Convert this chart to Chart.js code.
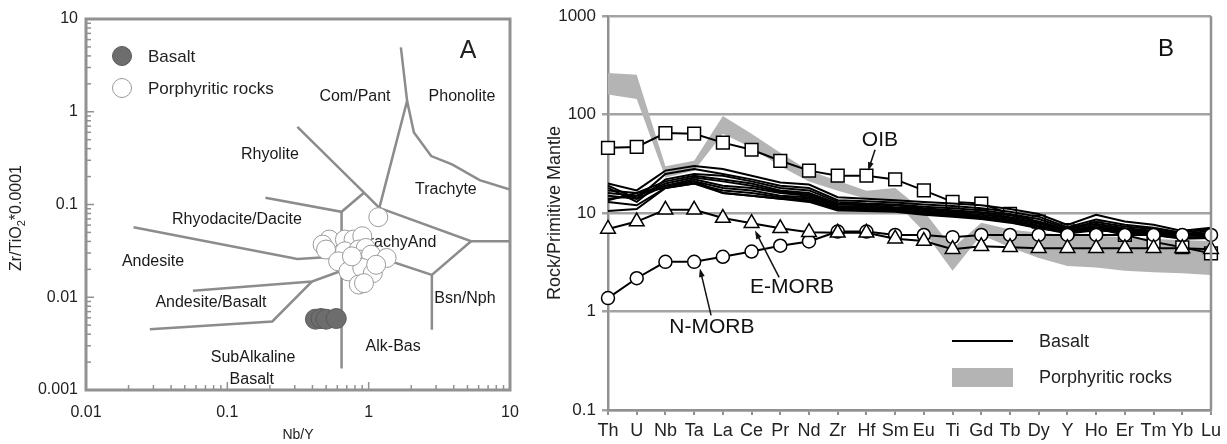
<!DOCTYPE html>
<html lang="en">
<head>
<meta charset="UTF-8">
<title>Nb/Y - Zr/TiO2 and primitive mantle normalized patterns</title>
<script src="https://cdn.jsdelivr.net/npm/chart.js@4"></script>
<style>
  body { margin: 0; background: #fff; }
  #wrap { position: relative; width: 1227px; height: 444px; }
  canvas { position: absolute; top: 0; }
</style>
</head>
<body>
<div id="wrap">
  <canvas id="chartA" width="540" height="444" style="left:0"></canvas>
  <canvas id="chartB" width="687" height="444" style="left:540px"></canvas>
</div>
<script>
// ---------- Panel A data (Nb/Y, Zr/TiO2*0.0001) ----------
const basaltA = [[0.42, 0.0058], [0.46, 0.0059], [0.50, 0.0058], [0.59, 0.0059]];
const porphyryA = [
  [1.17, 0.073], [0.527, 0.0419], [0.679, 0.0419], [0.782, 0.0419], [0.901, 0.0455],
  [0.472, 0.037], [0.499, 0.0327], [0.679, 0.0313], [0.851, 0.0327], [0.953, 0.034],
  [0.608, 0.0244], [0.782, 0.0234], [0.875, 0.0254], [1.04, 0.0288], [1.34, 0.0265],
  [0.719, 0.019], [0.901, 0.0207], [1.07, 0.0182], [0.851, 0.0137], [0.927, 0.0142],
  [0.761, 0.0276], [1.13, 0.0224]
];

// field boundaries
const bndRhyolite = [[0.313, 0.686], [0.927, 0.134], [1.19, 0.092]];
const bndComPant = [[1.69, 4.94], [1.87, 1.31], [1.19, 0.092]];
const bndPhonolite = [[1.87, 1.31], [2.09, 0.596], [2.77, 0.333], [3.89, 0.271], [6.1, 0.183], [10, 0.145]];
const bndTrachyte = [[1.19, 0.092], [5.3, 0.0402], [10, 0.0402]];
const bndTrachyAnd = [[0.643, 0.0366], [2.8, 0.0174], [5.3, 0.0402]];
const bndBsnNph = [[2.8, 0.0174], [2.8, 0.00446]];
const bndRhyodacite = [[0.186, 0.118], [0.643, 0.0834], [0.927, 0.134]];
const bndAlkaline = [[0.643, 0.0834], [0.643, 0.00171]];
const bndAndesite = [[0.0217, 0.0569], [0.313, 0.0259], [0.643, 0.0276]];
const bndAndBasalt = [[0.0571, 0.01175], [0.398, 0.0148], [0.643, 0.0193]];
const bndSubAlkaline = [[0.0283, 0.00453], [0.208, 0.00548], [0.398, 0.0148]];

const fieldNames = ['Com/Pant', 'Phonolite', 'Rhyolite', 'Trachyte', 'Rhyodacite/Dacite', 'TrachyAnd',
  'Andesite', 'Andesite/Basalt', 'Bsn/Nph', 'Alk-Bas', 'SubAlkaline', 'Basalt'];
const fieldAt = [[0.80, 1.44], [4.57, 1.44], [0.20, 0.342], [3.52, 0.143], [0.117, 0.068], [1.61, 0.0385],
  [0.0298, 0.024], [0.0766, 0.00867], [4.8, 0.00957], [1.49, 0.00291], [0.152, 0.00221], [0.149, 0.00131]];

// ---------- Panel B data (rock / primitive mantle) ----------
const elements = ['Th', 'U', 'Nb', 'Ta', 'La', 'Ce', 'Pr', 'Nd', 'Zr', 'Hf', 'Sm', 'Eu', 'Ti', 'Gd', 'Tb', 'Dy', 'Y', 'Ho', 'Er', 'Tm', 'Yb', 'Lu'];
const oib = [46, 47, 65, 64, 52, 44, 34, 27, 24, 24, 22, 17, 13, 12.5, 9.8, 8.2, 6.7, 7, 6, 5.1, 4.5, 3.9];
const emorb = [6.9, 8.2, 10.8, 10.8, 8.9, 7.9, 7.0, 6.4, 6.3, 6.3, 5.5, 5.2, 4.3, 4.6, 4.5, 4.4, 4.4, 4.4, 4.4, 4.4, 4.4, 4.3];
const nmorb = [1.37, 2.18, 3.2, 3.2, 3.6, 4.07, 4.66, 5.15, 6.5, 6.5, 6.0, 6.0, 5.7, 6.0, 6.0, 6.0, 6.0, 6.0, 6.0, 6.0, 6.0, 6.0];
const basaltB = [
  [20, 17, 27, 30, 28, 24, 20.5, 19.5, 14.5, 14, 13.5, 13, 12.5, 12, 11, 9.8, 7.6, 9.6, 8.2, 7.6, 6.6, 7.1],
  [19, 14, 25, 28, 25, 22, 19, 18, 13.5, 13.2, 12.8, 12.2, 11.8, 11.2, 10.3, 9.2, 7.2, 8.6, 7.6, 7.1, 6.3, 6.9],
  [18, 13, 22, 25, 24, 21, 18, 17, 13, 12.5, 12.2, 11.6, 11.2, 10.7, 9.8, 8.7, 7, 8.1, 7.3, 6.9, 6.1, 6.6],
  [17, 16, 21, 24, 22, 20, 17, 16, 12.5, 12.2, 12, 11.2, 10.7, 10.2, 9.5, 8.2, 6.8, 7.8, 7, 6.6, 6, 6.3],
  [16, 15, 20, 23, 21, 19, 16.5, 15.5, 12.2, 12, 11.5, 11, 10.4, 10, 9.1, 8, 6.6, 7.5, 6.8, 6.4, 5.9, 6.1],
  [15, 14, 19, 22, 19, 18, 16, 15, 11.8, 11.6, 11.3, 10.6, 10.1, 9.6, 8.9, 7.8, 6.6, 7.2, 6.7, 6.2, 5.8, 6.2],
  [14, 15, 19, 21, 18, 17, 15, 14.5, 11.4, 11.3, 11, 10.3, 9.9, 9.3, 8.6, 7.5, 6.4, 7, 6.6, 6.2, 5.6, 5.8],
  [13.5, 16, 18, 20, 17, 16, 14.5, 14, 11, 11, 10.8, 10, 9.7, 9.1, 8.4, 7.3, 6.3, 6.8, 6.5, 6, 5.6, 5.8],
  [13, 12, 18, 21, 16, 15, 14, 13.5, 10.8, 10.8, 10.5, 9.8, 9.4, 8.8, 8.1, 7.1, 6.2, 6.7, 6.4, 6, 5.5, 5.6],
  [10.5, 11, 18, 20, 16, 15, 14, 13, 10.6, 10.5, 10.3, 9.6, 9.2, 8.7, 8, 7, 6.4, 6.8, 6.3, 6.1, 5.6, 5.8]
];
const porphyryHigh = [265, 255, 30, 34, 97, 64, 41, 27, 21.3, 16.9, 18, 10.5, 4.4, 8, 6.8, 6.3, 6, 5.9, 5.7, 5.5, 5.3, 5.2];
const porphyryLow = [160, 144, 23, 27, 64, 46, 30, 21, 16.9, 14, 13, 6.5, 2.6, 6, 4.5, 3.5, 2.9, 2.8, 2.6, 2.5, 2.45, 2.35];

// ---------- helpers ----------
const FONT = "'Liberation Sans', Arial, sans-serif";
const AXIS_GRAY = '#919191';
const LINE_GRAY = '#8c8c8c';

function pairs(arr) { return arr.map(p => ({ x: p[0], y: p[1] })); }
function isDecade(v) { const l = Math.log10(v); return Math.abs(l - Math.round(l)) < 1e-6; }
function decadeLabel(v) { return isDecade(v) ? String(+Number(v).toPrecision(1)) : ''; }

function arrow(ctx, x1, y1, x2, y2) {
  const a = Math.atan2(y2 - y1, x2 - x1), h = 9;
  ctx.beginPath();
  ctx.moveTo(x1, y1);
  ctx.lineTo(x2 - Math.cos(a) * h * 0.7, y2 - Math.sin(a) * h * 0.7);
  ctx.stroke();
  ctx.beginPath();
  ctx.moveTo(x2, y2);
  ctx.lineTo(x2 - h * Math.cos(a - 0.33), y2 - h * Math.sin(a - 0.33));
  ctx.lineTo(x2 - h * Math.cos(a + 0.33), y2 - h * Math.sin(a + 0.33));
  ctx.closePath();
  ctx.fill();
}

// ---------- Panel A ----------
const panelA = {
  id: 'panelA',
  beforeDatasetsDraw(chart) {
    const { ctx, scales: { x, y } } = chart;
    ctx.save();
    ctx.fillStyle = '#1a1a1a';
    ctx.font = '16px ' + FONT;
    ctx.textAlign = 'center';
    ctx.textBaseline = 'middle';
    fieldNames.forEach((t, i) => {
      ctx.fillText(t, x.getPixelForValue(fieldAt[i][0]), y.getPixelForValue(fieldAt[i][1]));
    });
    ctx.restore();
  },
  afterDraw(chart) {
    const { ctx, chartArea: a, scales: { x, y } } = chart;
    ctx.save();
    // inward ticks on left and bottom axes
    ctx.strokeStyle = AXIS_GRAY;
    ctx.lineWidth = 1.5;
    for (let d = -3; d <= 1; d++) {
      for (let m = 1; m <= 9; m++) {
        const v = m * Math.pow(10, d);
        if (v < 0.001 || v > 10) continue;
        const py = y.getPixelForValue(v), len = m === 1 ? 8 : 5;
        ctx.beginPath(); ctx.moveTo(a.left, py); ctx.lineTo(a.left + len, py); ctx.stroke();
      }
    }
    for (let d = -2; d <= 1; d++) {
      for (let m = 1; m <= 9; m++) {
        const v = m * Math.pow(10, d);
        if (v < 0.01 || v > 10) continue;
        const px = x.getPixelForValue(v), len = m === 1 ? 8 : 5;
        ctx.beginPath(); ctx.moveTo(px, a.bottom); ctx.lineTo(px, a.bottom - len); ctx.stroke();
      }
    }
    // frame
    ctx.lineWidth = 3;
    ctx.strokeRect(a.left, a.top, a.right - a.left, a.bottom - a.top);

    // y title with subscript
    ctx.fillStyle = '#222';
    ctx.translate(17, 218);
    ctx.rotate(-Math.PI / 2);
    ctx.textBaseline = 'middle';
    const p1 = 'Zr/TiO', p3 = '*0.0001';
    ctx.font = '16px ' + FONT; const w1 = ctx.measureText(p1).width;
    ctx.font = '11px ' + FONT; const w2 = ctx.measureText('2').width;
    ctx.font = '16px ' + FONT; const w3 = ctx.measureText(p3).width;
    const sx = -(w1 + w2 + w3) / 2;
    ctx.textAlign = 'left';
    ctx.fillText(p1, sx, 0);
    ctx.font = '11px ' + FONT;
    ctx.fillText('2', sx + w1, 5);
    ctx.font = '16px ' + FONT;
    ctx.fillText(p3, sx + w1 + w2, 0);
    ctx.setTransform(1, 0, 0, 1, 0, 0);

    // legend
    ctx.beginPath(); ctx.arc(122, 56, 9.5, 0, Math.PI * 2);
    ctx.fillStyle = '#6d6d6d'; ctx.fill();
    ctx.strokeStyle = '#5a5a5a'; ctx.lineWidth = 1; ctx.stroke();
    ctx.beginPath(); ctx.arc(122, 88, 9.5, 0, Math.PI * 2);
    ctx.fillStyle = '#fff'; ctx.fill();
    ctx.strokeStyle = '#9a9a9a'; ctx.stroke();
    ctx.fillStyle = '#222';
    ctx.font = '17px ' + FONT;
    ctx.textAlign = 'left';
    ctx.textBaseline = 'middle';
    ctx.fillText('Basalt', 148, 57);
    ctx.fillText('Porphyritic rocks', 148, 89);
    // panel letter
    ctx.font = '25px ' + FONT;
    ctx.textAlign = 'center';
    ctx.fillText('A', 468, 51);
    ctx.restore();
  }
};

const boundaries = [bndRhyolite, bndComPant, bndPhonolite, bndTrachyte, bndTrachyAnd, bndBsnNph,
  bndRhyodacite, bndAlkaline, bndAndesite, bndAndBasalt, bndSubAlkaline];

new Chart(document.getElementById('chartA'), {
  type: 'scatter',
  data: {
    datasets: [
      ...boundaries.map(b => ({
        data: pairs(b), showLine: true, borderColor: LINE_GRAY, borderWidth: 2.5,
        pointRadius: 0, fill: false, order: 5
      })),
      {
        label: 'Porphyritic rocks', data: pairs(porphyryA), pointRadius: 9.5,
        backgroundColor: '#ffffff', borderColor: '#9a9a9a', borderWidth: 1, order: 1
      },
      {
        label: 'Basalt', data: pairs(basaltA), pointRadius: 10,
        backgroundColor: '#6d6d6d', borderColor: '#5a5a5a', borderWidth: 1, order: 0
      }
    ]
  },
  options: {
    responsive: false,
    animation: false,
    events: [],
    layout: { padding: { left: 0, right: 30, top: 19, bottom: 0 } },
    plugins: { legend: { display: false }, tooltip: { enabled: false } },
    scales: {
      x: {
        type: 'logarithmic', min: 0.01, max: 10,
        grid: { display: false, drawTicks: false },
        border: { display: false },
        ticks: { autoSkip: false, maxRotation: 0, padding: 13, color: '#222', font: { size: 16, family: FONT }, callback: decadeLabel },
        title: { display: true, text: 'Nb/Y', color: '#222', font: { size: 14, family: FONT }, padding: { top: 0, bottom: 0 } },
        afterFit: s => { s.height = 54; }
      },
      y: {
        type: 'logarithmic', min: 0.001, max: 10,
        grid: { display: false, drawTicks: false },
        border: { display: false },
        ticks: { autoSkip: false, padding: 8, color: '#222', font: { size: 16, family: FONT }, callback: decadeLabel },
        afterFit: s => { s.width = 86; }
      }
    }
  },
  plugins: [panelA]
});

// ---------- Panel B ----------
const panelB = {
  id: 'panelB',
  afterDraw(chart) {
    const { ctx, chartArea: a, scales: { x, y } } = chart;
    ctx.save();
    // right frame
    ctx.strokeStyle = AXIS_GRAY;
    ctx.lineWidth = 2.5;
    ctx.beginPath(); ctx.moveTo(a.right, a.top); ctx.lineTo(a.right, a.bottom); ctx.stroke();

    // annotations
    const P = (i, v) => [x.getPixelForValue(i), y.getPixelForValue(v)];
    ctx.fillStyle = '#111';
    ctx.strokeStyle = '#111';
    ctx.lineWidth = 1.5;
    ctx.font = '21px ' + FONT;
    ctx.textAlign = 'center';
    ctx.textBaseline = 'middle';
    let t = P(9.47, 55.5); ctx.fillText('OIB', t[0], t[1]);
    let f = P(9.3, 44), g = P(9.06, 26.9); arrow(ctx, f[0], f[1], g[0], g[1]);
    t = P(6.41, 1.76); ctx.fillText('E-MORB', t[0], t[1]);
    f = P(5.96, 2.22); g = P(5.12, 6.65); arrow(ctx, f[0], f[1], g[0], g[1]);
    t = P(3.62, 0.694); ctx.fillText('N-MORB', t[0], t[1]);
    f = P(3.59, 0.916); g = P(3.2, 2.74); arrow(ctx, f[0], f[1], g[0], g[1]);

    // panel letter
    ctx.font = '24px ' + FONT;
    ctx.fillText('B', 626, 49);

    // legend
    ctx.strokeStyle = '#000';
    ctx.lineWidth = 2;
    ctx.beginPath(); ctx.moveTo(412, 341); ctx.lineTo(473, 341); ctx.stroke();
    ctx.fillStyle = '#b4b4b4';
    ctx.fillRect(412, 368, 61, 19);
    ctx.fillStyle = '#222';
    ctx.font = '18px ' + FONT;
    ctx.textAlign = 'left';
    ctx.fillText('Basalt', 499, 342);
    ctx.fillText('Porphyritic rocks', 499, 378);
    ctx.restore();
  }
};

const refStyle = (label, data, style, r, order) => ({
  label, data, borderColor: '#000', borderWidth: 2, tension: 0,
  pointStyle: style, pointRadius: r, pointBackgroundColor: '#fff',
  pointBorderColor: '#000', pointBorderWidth: 1.5, order
});

new Chart(document.getElementById('chartB'), {
  type: 'line',
  data: {
    labels: elements,
    datasets: [
      refStyle('OIB', oib, 'rect', 9, 2),
      refStyle('E-MORB', emorb, 'triangle', 8.5, 0),
      refStyle('N-MORB', nmorb, 'circle', 6.5, 0),
      ...basaltB.map((s, i) => ({
        label: 'Basalt ' + (i + 1), data: s, borderColor: '#000', borderWidth: 2,
        pointRadius: 0, tension: 0, order: 1
      })),
      {
        label: 'Porphyritic rocks', data: porphyryHigh, borderWidth: 0, pointRadius: 0,
        backgroundColor: '#b4b4b4', fill: '+1', order: 3
      },
      {
        label: 'Porphyritic low', data: porphyryLow, borderWidth: 0, pointRadius: 0,
        fill: false, order: 3
      }
    ]
  },
  options: {
    responsive: false,
    animation: false,
    events: [],
    layout: { padding: { left: 0, right: 16, top: 15, bottom: 0 } },
    plugins: { legend: { display: false }, tooltip: { enabled: false } },
    scales: {
      x: {
        type: 'category', offset: false,
        grid: { display: true, drawOnChartArea: false, drawTicks: true, tickLength: 5, color: AXIS_GRAY, lineWidth: 2 },
        border: { display: true, color: AXIS_GRAY, width: 2.5 },
        ticks: { autoSkip: false, maxRotation: 0, padding: 5, color: '#222', font: { size: 18, family: FONT } },
        afterFit: s => { s.height = 34; }
      },
      y: {
        type: 'logarithmic', min: 0.1, max: 1000,
        grid: {
          color: c => (c.tick && isDecade(c.tick.value)) ? '#a3a3a3' : 'rgba(0,0,0,0)',
          lineWidth: 2.5, drawTicks: true, tickLength: 6
        },
        border: { display: true, color: AXIS_GRAY, width: 2.5 },
        ticks: { autoSkip: false, padding: 6, color: '#222', font: { size: 17, family: FONT }, callback: decadeLabel },
        title: { display: true, text: 'Rock/Primitive Mantle', color: '#222', font: { size: 18, family: FONT }, padding: { top: 4, bottom: 0 } },
        afterFit: s => { s.width = 68; }
      }
    }
  },
  plugins: [panelB]
});
</script>
</body>
</html>
